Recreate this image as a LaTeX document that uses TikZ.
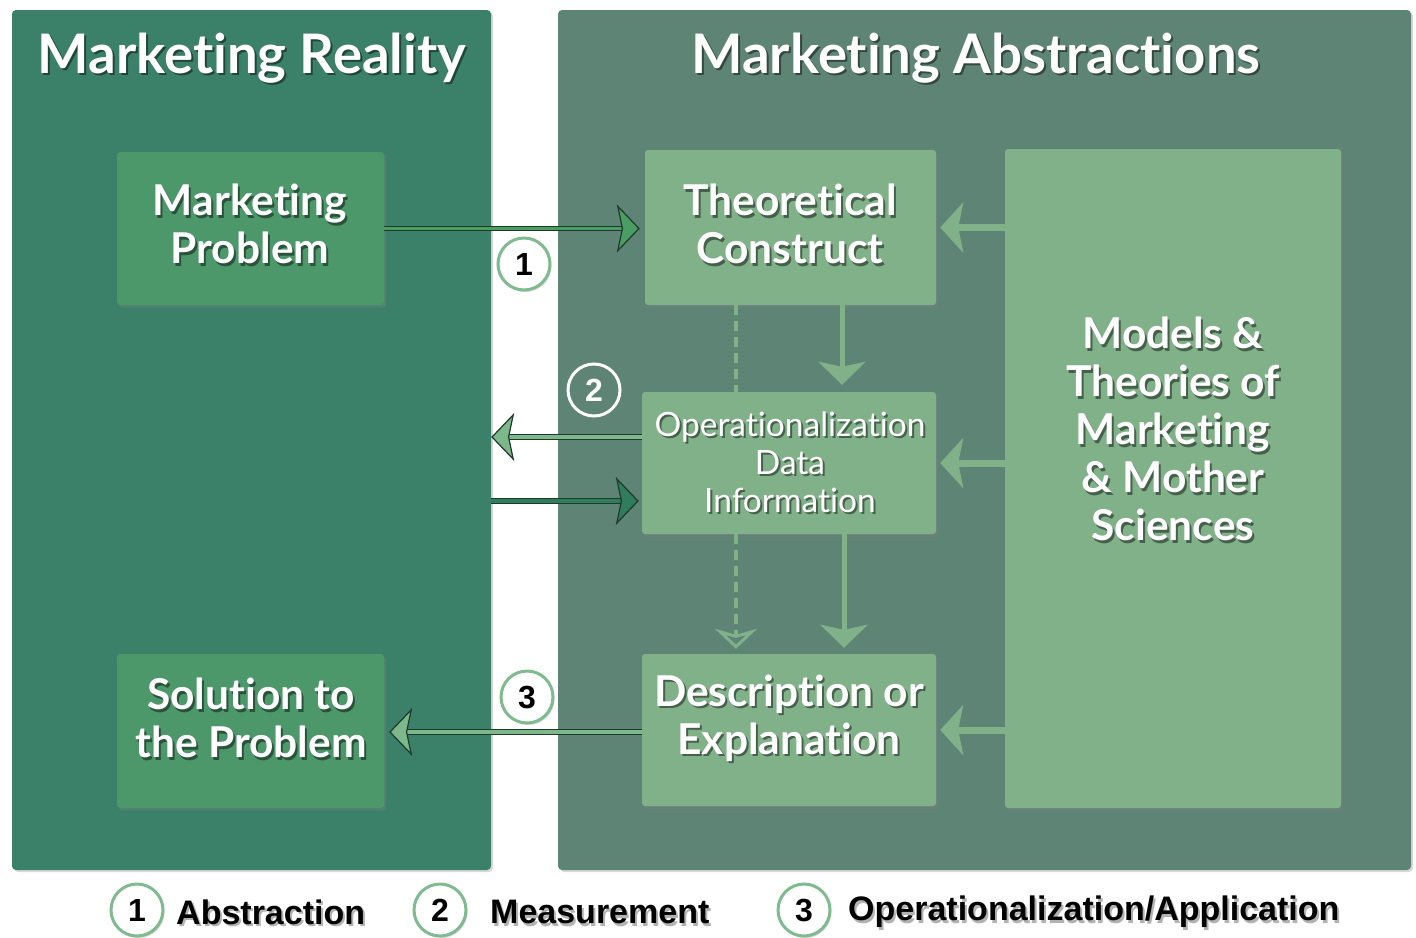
\documentclass[tikz,border=0pt]{standalone}
\usepackage{fontspec}
\setmainfont{Lato}[Ligatures={NoCommon}]
\newfontfamily\legfont{Liberation Sans}
\usetikzlibrary{arrows.meta,shadows,calc}
\definecolor{leftpanel}{HTML}{3B8068}
\definecolor{rightpanel}{HTML}{5E8476}
\definecolor{lightbox}{HTML}{81B189}
\definecolor{leftbox}{HTML}{4C986A}
\definecolor{outl}{HTML}{1F3A2C}
\definecolor{arrowA}{HTML}{4A9E63}
\definecolor{arrowB}{HTML}{2F7D5C}
\definecolor{arrowL}{HTML}{7DB88A}
\definecolor{circg}{HTML}{7FBB8F}
\newcommand\shtext[4]{%
  \node[#3, text=black, opacity=0.45] (#1s) at ([shift={(2,2.5)}]#2) {#4};
  \node[#3, text=white] (#1) at (#2) {#4};
}
\newcommand\legtext[3]{%
  \node[legtxt, text=black!60, opacity=0.5] (#1s) at ([shift={(2,2.5)}]#2) {#3};
  \node[legtxt] (#1) at (#2) {#3};
}
\newcommand\garrow[3]{%
  \draw[line width=5.5pt, draw=outl, shorten >=18pt] (#1) -- (#2);
  \draw[line width=3.5pt, draw=#3, shorten >=17pt] (#1) -- (#2);
  \draw[draw=outl, line width=1.2pt, -{Stealth[length=23pt,width=48pt,inset=5pt,fill=#3]}] ($(#2)!1pt!(#1)$) -- (#2);
}
\tikzset{
  panel/.style={rectangle, rounded corners=4pt, inner sep=0pt, drop shadow={opacity=0.3, shadow xshift=2pt, shadow yshift=-2pt}},
  box/.style={rectangle, rounded corners=3pt, inner sep=0pt, drop shadow={opacity=0.35, shadow xshift=2pt, shadow yshift=-2.5pt}},
  titlef/.style={font=\fontsize{54.5}{60}\selectfont\bfseries, inner sep=0pt},
  boxf/.style={font=\fontsize{42.5}{48}\selectfont\bfseries, align=center, inner sep=0pt},
  opf/.style={font=\fontsize{33.5}{38}\selectfont, align=center, inner sep=0pt},
  legtxt/.style={font=\legfont\fontsize{34}{40}\selectfont\bfseries, anchor=west, inner sep=0pt},
  numc/.style={circle, minimum size=52pt, inner sep=0pt, line width=3pt, draw=circg, fill=white, font=\legfont\fontsize{32}{36}\selectfont\bfseries, drop shadow={opacity=0.3, shadow xshift=1.5pt, shadow yshift=-2pt}},
  numw/.style={circle, minimum size=52pt, inner sep=0pt, line width=3pt, draw=white, text=white, font=\legfont\fontsize{32}{36}\selectfont\bfseries},
  marrow/.style={line width=7pt, draw=lightbox, -{Stealth[length=23pt,width=50pt,inset=5pt]}, shorten >=4pt},
  varrow/.style={line width=5pt, draw=lightbox, -{Stealth[length=23pt,width=47pt,inset=5pt]}},
  dline/.style={line width=4pt, draw=lightbox, dash pattern=on 10pt off 6pt}
}
\begin{document}
\begin{tikzpicture}[x=1pt,y=-1pt]
\useasboundingbox (0,0) rectangle (1416,937);
\fill[white] (0,0) rectangle (1416,937);
% panels
\node[panel, fill=leftpanel, minimum width=479pt, minimum height=860pt] (lp) at (251.5,440) {};
\node[panel, fill=rightpanel, minimum width=853pt, minimum height=860pt] (rp) at (984.5,440) {};
\shtext{t1}{252,58}{titlef}{Marketing Reality}
\shtext{t2}{976,58}{titlef}{Marketing Abstractions}
% boxes
\node[box, fill=leftbox, minimum width=267pt, minimum height=153pt] (mp) at (250.5,228.5) {};
\node[box, fill=leftbox, minimum width=267pt, minimum height=154pt] (sp) at (250.5,731) {};
\node[box, fill=lightbox, minimum width=291pt, minimum height=155pt] (tc) at (790.5,227.5) {};
\node[box, fill=lightbox, minimum width=294pt, minimum height=142pt] (op) at (789,463) {};
\node[box, fill=lightbox, minimum width=294pt, minimum height=152pt] (de) at (789,730) {};
\node[box, fill=lightbox, minimum width=336pt, minimum height=659pt] (mo) at (1173,478.5) {};
% box texts
\shtext{mpt}{250,224}{boxf}{Marketing\\Problem}
\shtext{spt}{251,718}{boxf}{Solution to\\the Problem}
\shtext{tct}{790,224}{boxf}{Theoretical\\Construct}
\shtext{opt}{790,462}{opf}{Operationalization\\Data\\Information}
\shtext{det}{789,718}{boxf}{Description or\\Explanation}
\shtext{mot}{1173,429}{boxf}{Models \&\\Theories of\\Marketing\\\& Mother\\Sciences}
% arrows from models box
\draw[marrow] (mo.west |- tc.east) -- (tc.east);
\draw[marrow] (mo.west |- op.east) -- (op.east);
\draw[marrow] (mo.west |- de.east) -- (de.east);
% vertical arrows
\coordinate (v1s) at ([xshift=51.5pt]tc.south);
\coordinate (v1e) at ([xshift=53pt,yshift=7pt]op.north);
\draw[varrow] (v1s) -- (v1e);
\coordinate (v2s) at ([xshift=55pt]op.south);
\coordinate (v2e) at ([xshift=55pt,yshift=6pt]de.north);
\draw[varrow] (v2s) -- (v2e);
\coordinate (d1s) at ([xshift=-54.5pt]tc.south);
\coordinate (d1e) at ([xshift=-53pt]op.north);
\draw[dline] (d1s) -- (d1e);
\coordinate (d2s) at ([xshift=-53pt]op.south);
\coordinate (d2e) at ([xshift=-53pt,yshift=5pt]de.north);
\draw[dline, -{Stealth[length=20pt,width=42pt,inset=6pt,open,line width=3pt]}] (d2s) -- (d2e);
% main arrows
\coordinate (a1e) at ([xshift=-5pt]mp.east -| tc.west);
\garrow{mp.east}{a1e}{arrowA}
\coordinate (a2s) at ([yshift=26pt]op.west);
\coordinate (a2e) at (lp.east |- a2s);
\garrow{a2s}{a2e}{arrowL}
\coordinate (a3s) at (lp.east |- 0,501);
\coordinate (a3e) at ([xshift=-3pt]op.west |- a3s);
\garrow{a3s}{a3e}{arrowB}
\coordinate (a4s) at (de.west |- 0,732);
\coordinate (a4e) at ([xshift=5pt]sp.east |- a4s);
\garrow{a4s}{a4e}{arrowL}
% number circles
\node[numc] (c1) at (524,264) {1};
\node[numw] (c2) at (594,390) {2};
\node[numc] (c3) at (527,697) {3};
% legend
\node[numc] (l1) at (137,910) {1};
\node[numc] (l2) at (440,910) {2};
\node[numc] (l3) at (804,910) {3};
\legtext{lt1}{176,912}{Abstraction}
\legtext{lt2}{490,912}{Measurement}
\legtext{lt3}{848,912}{Operationalization/Application}
\end{tikzpicture}
\end{document}
